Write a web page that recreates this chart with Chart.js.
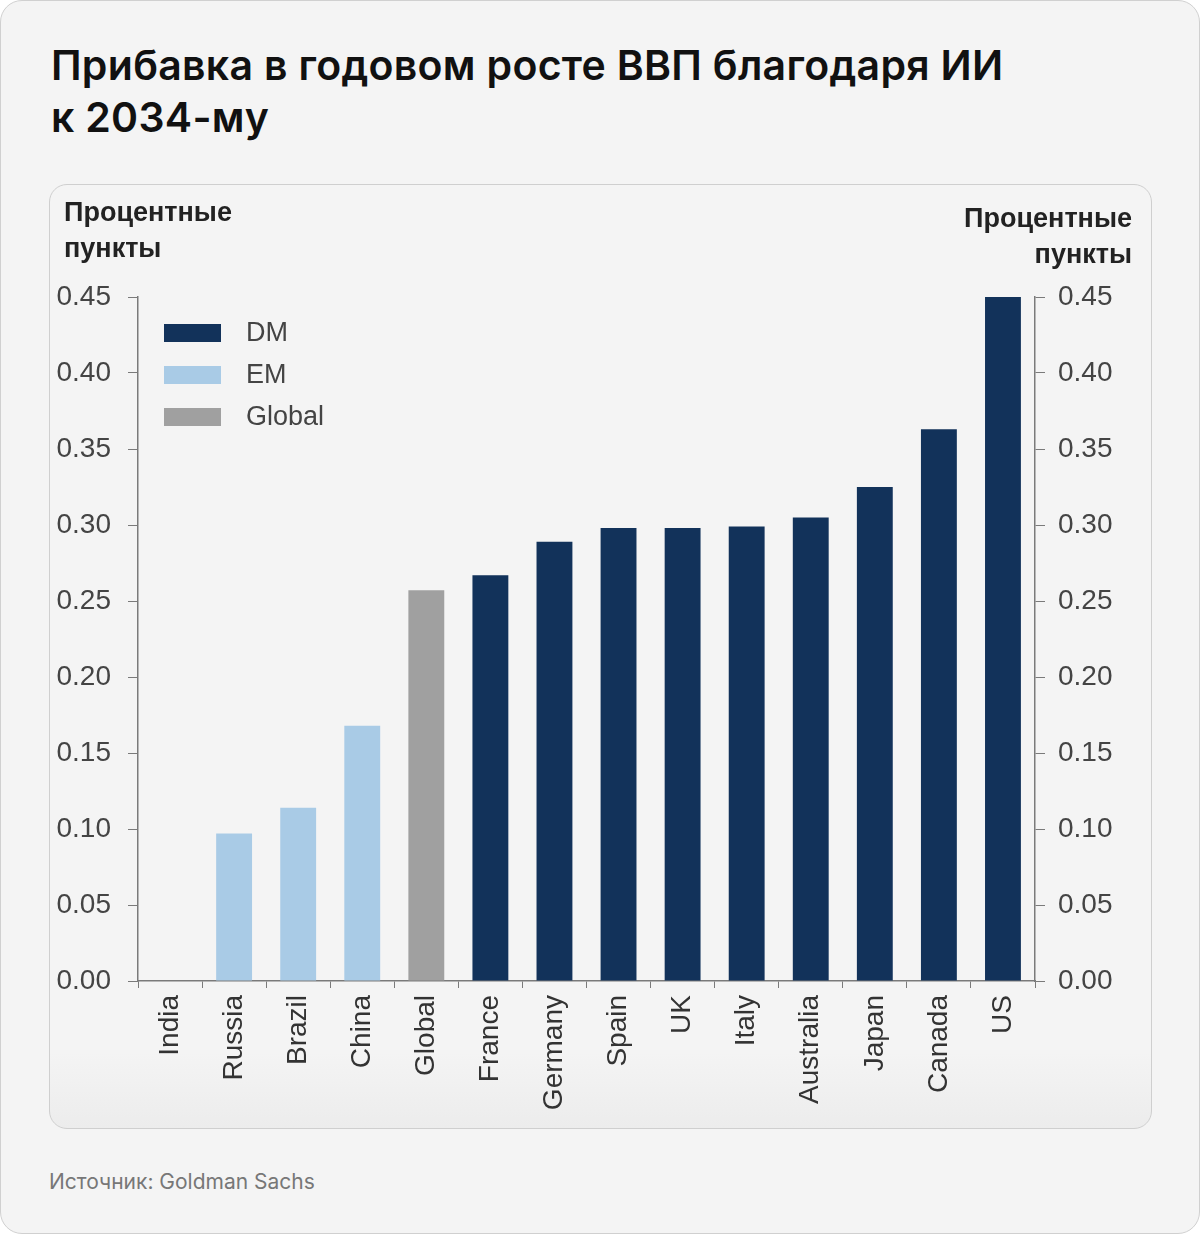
<!DOCTYPE html>
<html>
<head>
<meta charset="utf-8">
<script src="https://cdn.jsdelivr.net/npm/chart.js@4.4.1/dist/chart.umd.min.js"></script>
<style>
  html, body { margin: 0; padding: 0; }
  body { width: 1200px; height: 1234px; background: #fff; position: relative; }
  .card {
    position: absolute; left: 0; top: 0; width: 1198px; height: 1232px;
    background: #f4f4f4; border: 1px solid #d0d0d0; border-radius: 22px;
  }
  h1 {
    position: absolute; left: 50px; top: 38px; margin: 0;
    font-family: Inter, "Noto Sans", sans-serif; font-weight: 600;
    font-size: 41px; line-height: 52px; color: #111; letter-spacing: 0.3px;
  }
  .panel {
    position: absolute; left: 48px; top: 183px; width: 1101px; height: 943px;
    border: 1px solid #cfcfcf; border-radius: 18px; overflow: hidden;
    background: linear-gradient(#f4f4f4 0%, #f4f4f4 92%, #ececec 100%);
  }
  .panel canvas { position: absolute; left: 0; top: 0; }
  .source {
    position: absolute; left: 48px; top: 1168px;
    font-family: Inter, "Noto Sans", sans-serif; font-size: 21px; color: #777;
  }
</style>
</head>
<body>
<div class="card">
  <h1>Прибавка в годовом росте ВВП благодаря ИИ<br>к 2034-му</h1>
  <div class="panel"><canvas id="chart" width="1101" height="943"></canvas></div>
  <div class="source">Источник: Goldman Sachs</div>
</div>
<script>
// data
let categories = ['India', 'Russia', 'Brazil', 'China', 'Global', 'France', 'Germany', 'Spain', 'UK', 'Italy', 'Australia', 'Japan', 'Canada', 'US'];
let values = [0, 0.097, 0.114, 0.168, 0.257, 0.267, 0.289, 0.298, 0.298, 0.299, 0.305, 0.325, 0.363, 0.45];
let groups = ['EM', 'EM', 'EM', 'EM', 'Global', 'DM', 'DM', 'DM', 'DM', 'DM', 'DM', 'DM', 'DM', 'DM'];
let seriesNames = ['DM', 'EM', 'Global'];
let seriesColors = ['#12325a', '#a9cbe6', '#a0a0a0'];
let yTicks = [0, 0.05, 0.10, 0.15, 0.20, 0.25, 0.30, 0.35, 0.40, 0.45];
let axisTitle = ['Процентные', 'пункты'];

const FONT = 'Liberation Sans, Arial, sans-serif';
const AXIS = '#7a7a7a';

let datasets = seriesNames.map((name, i) => ({
    label: name,
    data: values.map((v, j) => groups[j] == name ? v : null),
    backgroundColor: seriesColors[i],
    borderWidth: 0,
    grouped: false,
    barPercentage: 0.56,
    categoryPercentage: 1.0
}));

// legend drawn inside the plot, top-left
const innerLegend = {
    id: 'innerLegend',
    afterDraw(chart) {
        let ctx = chart.ctx;
        ctx.save();
        ctx.font = '27px ' + FONT;
        ctx.textBaseline = 'middle';
        chart.data.datasets.forEach((ds, i) => {
            let y = 139 + i * 42;
            ctx.fillStyle = ds.backgroundColor;
            ctx.fillRect(114, y, 57, 18);
            ctx.fillStyle = '#444';
            ctx.fillText(ds.label, 196, y + 10);
        });
        ctx.restore();
    }
};

// "Процентные пункты" above both axes
const axisTitles = {
    id: 'axisTitles',
    afterDraw(chart) {
        let ctx = chart.ctx;
        ctx.save();
        ctx.font = 'bold 27px ' + FONT;
        ctx.fillStyle = '#222';
        ctx.textBaseline = 'middle';
        ctx.textAlign = 'left';
        ctx.fillText(axisTitle[0], 14, 29);
        ctx.fillText(axisTitle[1], 14, 65);
        ctx.textAlign = 'right';
        ctx.fillText(axisTitle[0], 1082, 35);
        ctx.fillText(axisTitle[1], 1082, 71);
        ctx.restore();
    }
};

function yScale(position, width) {
    return {
        type: 'linear',
        position: position,
        min: 0,
        max: 0.45,
        afterBuildTicks: (s) => { s.ticks = yTicks.map(v => ({ value: v })); },
        afterFit: (s) => { s.width = width; },
        grid: { drawOnChartArea: false, drawTicks: true, tickLength: 10, color: AXIS },
        border: { display: true, color: AXIS, width: 1.5 },
        ticks: {
            padding: position == 'left' ? 17 : 13,
            color: '#444',
            font: { family: FONT, size: 28 },
            callback: (v) => v.toFixed(2)
        }
    };
}

new Chart(document.getElementById('chart'), {
    type: 'bar',
    data: { labels: categories, datasets: datasets },
    options: {
        responsive: false,
        animation: false,
        layout: { padding: { top: 112, left: 0, right: 0, bottom: 0 } },
        plugins: { legend: { display: false }, tooltip: { enabled: false } },
        scales: {
            x: {
                offset: true,
                afterFit: (s) => { s.height = 147; },
                grid: { drawOnChartArea: false, drawTicks: true, tickLength: 7, color: AXIS, offset: true },
                border: { display: true, color: AXIS, width: 1.5 },
                ticks: {
                    minRotation: 90,
                    maxRotation: 90,
                    padding: 7,
                    color: '#333',
                    font: { family: FONT, size: 28 }
                }
            },
            y: yScale('left', 88),
            y2: yScale('right', 116)
        }
    },
    plugins: [innerLegend, axisTitles]
});
</script>
</body>
</html>
